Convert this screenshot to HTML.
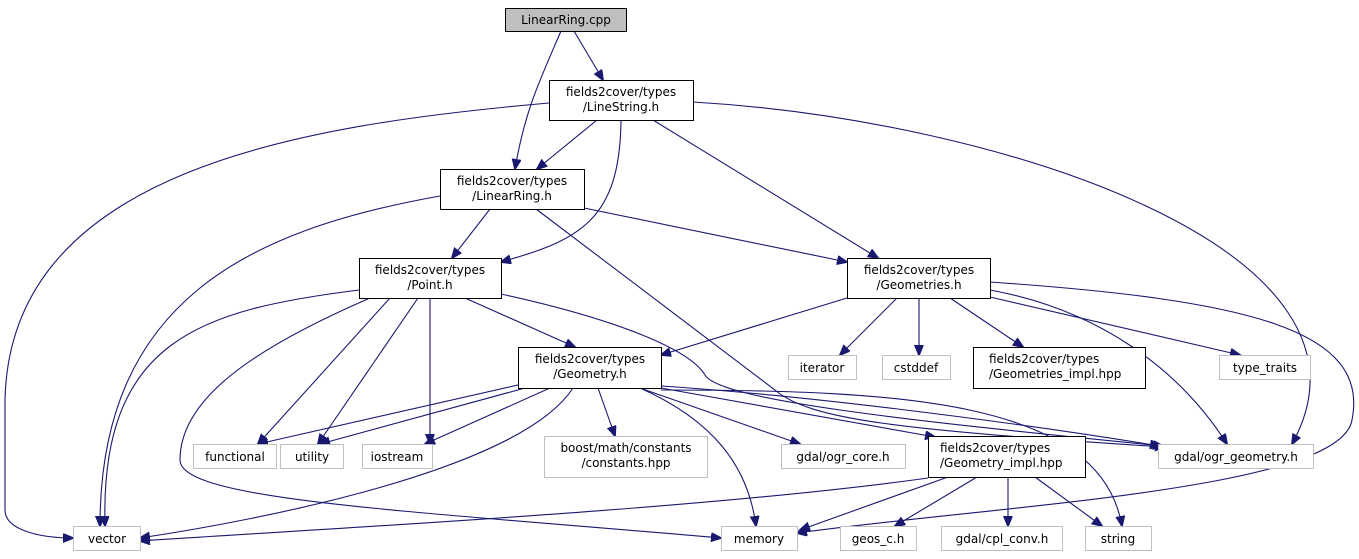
<!DOCTYPE html>
<html><head><meta charset="utf-8"><style>
html,body{margin:0;padding:0;background:#fff;}
svg{display:block;font-family:"DejaVu Sans","Liberation Sans",sans-serif;font-size:12px;}
</style></head><body>
<svg width="1359" height="559" viewBox="0 0 1359 559" xmlns="http://www.w3.org/2000/svg">
<defs><marker id="a" markerWidth="12" markerHeight="10" refX="10" refY="4.5" orient="auto" markerUnits="userSpaceOnUse"><path d="M0,0 L11,4.5 L0,9 z" fill="#191970" stroke="#191970"/></marker></defs>
<g fill="none" stroke="#191970" stroke-width="1.1" marker-end="url(#a)">
<path d="M574,31 L603,80"/>
<path d="M561,31 C540,80 525,110 515,169"/>
<path d="M549,103 C300,125 10,170 5,400 L5,510 C5,530 40,538 73,538"/>
<path d="M597,120 L537,169"/>
<path d="M621,120 C620,220 580,240 501,262"/>
<path d="M653,120 L878,258"/>
<path d="M693,102 C1000,120 1400,250 1292,444"/>
<path d="M440,196 C250,230 100,300 100,526"/>
<path d="M490,209 L452,258"/>
<path d="M536,209 L775,390 C810,420 900,430 1165,447"/>
<path d="M584,208 L847,262"/>
<path d="M359,290 C200,310 100,340 105,526"/>
<path d="M370,298 C250,350 180,400 180,460 C180,500 400,510 721,538"/>
<path d="M390,298 L258,444"/>
<path d="M418,298 L318,444"/>
<path d="M430,298 L430,444"/>
<path d="M465,298 L575,347"/>
<path d="M501,294 C620,320 690,350 705,375 C720,400 900,420 1163,446"/>
<path d="M847,298 L661,355"/>
<path d="M897,298 L840,355"/>
<path d="M919,298 L919,355"/>
<path d="M950,298 L1023,347"/>
<path d="M990,297 L1240,355"/>
<path d="M990,290 C1100,310 1180,370 1227,444"/>
<path d="M990,282 C1250,300 1370,330 1352,420 C1340,490 1000,505 797,533"/>
<path d="M518,385 L258,444"/>
<path d="M525,388 L320,444"/>
<path d="M550,388 L425,444"/>
<path d="M598,388 L615,436"/>
<path d="M573,388 C520,470 260,520 140,538"/>
<path d="M640,388 C712,420 748,465 756,526"/>
<path d="M640,388 L800,444"/>
<path d="M661,388 L935,437"/>
<path d="M661,390 C900,390 1100,400 1122,526"/>
<path d="M661,386 C800,395 1000,420 1160,446"/>
<path d="M928,478 C700,510 300,530 140,541"/>
<path d="M948,477 L800,530"/>
<path d="M977,477 L895,526"/>
<path d="M1008,477 L1008,526"/>
<path d="M1035,477 L1102,526"/>
</g>
<g stroke-width="1">
<rect x="505.5" y="8.5" width="121" height="23" fill="#bfbfbf" stroke="#000"/>
<rect x="549.5" y="80.5" width="144" height="40" fill="#fff" stroke="#000"/>
<rect x="440.5" y="169.5" width="144" height="40" fill="#fff" stroke="#000"/>
<rect x="359.5" y="258.5" width="142" height="40" fill="#fff" stroke="#000"/>
<rect x="847.5" y="258.5" width="143" height="40" fill="#fff" stroke="#000"/>
<rect x="518.5" y="347.5" width="143" height="41" fill="#fff" stroke="#000"/>
<rect x="973.5" y="347.5" width="172" height="41" fill="#fff" stroke="#000"/>
<rect x="928.5" y="436.5" width="157" height="41" fill="#fff" stroke="#000"/>
<g fill="#fff" stroke="#bfbfbf">
<rect x="788.5" y="355.5" width="68" height="24"/>
<rect x="882.5" y="355.5" width="68" height="24"/>
<rect x="1219.5" y="355.5" width="91" height="24"/>
<rect x="193.5" y="444.5" width="83" height="24"/>
<rect x="280.5" y="444.5" width="63" height="24"/>
<rect x="362.5" y="444.5" width="70" height="24"/>
<rect x="544.5" y="436.5" width="163" height="41"/>
<rect x="781.5" y="444.5" width="124" height="24"/>
<rect x="1158.5" y="444.5" width="155" height="24"/>
<rect x="73.5" y="526.5" width="67" height="24"/>
<rect x="721.5" y="526.5" width="76" height="24"/>
<rect x="840.5" y="526.5" width="76" height="24"/>
<rect x="941.5" y="526.5" width="121" height="24"/>
<rect x="1085.5" y="526.5" width="66" height="24"/>
</g>
</g>
<g fill="#000" text-anchor="middle">
<text x="566" y="24">LinearRing.cpp</text>
<text x="621" y="96">fields2cover/types</text><text x="621" y="111">/LineString.h</text>
<text x="512" y="185">fields2cover/types</text><text x="512" y="200">/LinearRing.h</text>
<text x="430" y="274">fields2cover/types</text><text x="430" y="289">/Point.h</text>
<text x="919" y="274">fields2cover/types</text><text x="919" y="289">/Geometries.h</text>
<text x="590" y="363">fields2cover/types</text><text x="590" y="378">/Geometry.h</text>
<text x="822" y="372">iterator</text>
<text x="916" y="372">cstddef</text>
<text x="1265" y="372">type_traits</text>
<text x="235" y="461">functional</text>
<text x="312" y="461">utility</text>
<text x="397" y="461">iostream</text>
<text x="626" y="452">boost/math/constants</text><text x="626" y="467">/constants.hpp</text>
<text x="843" y="461">gdal/ogr_core.h</text>
<text x="1236" y="461">gdal/ogr_geometry.h</text>
<text x="107" y="543">vector</text>
<text x="759" y="543">memory</text>
<text x="878" y="543">geos_c.h</text>
<text x="1002" y="543">gdal/cpl_conv.h</text>
<text x="1118" y="543">string</text>
</g>
<g fill="#000" text-anchor="start">
<text x="989" y="363">fields2cover/types</text><text x="989" y="378">/Geometries_impl.hpp</text>
<text x="940" y="452">fields2cover/types</text><text x="940" y="467">/Geometry_impl.hpp</text>
</g>
</svg>
</body></html>
